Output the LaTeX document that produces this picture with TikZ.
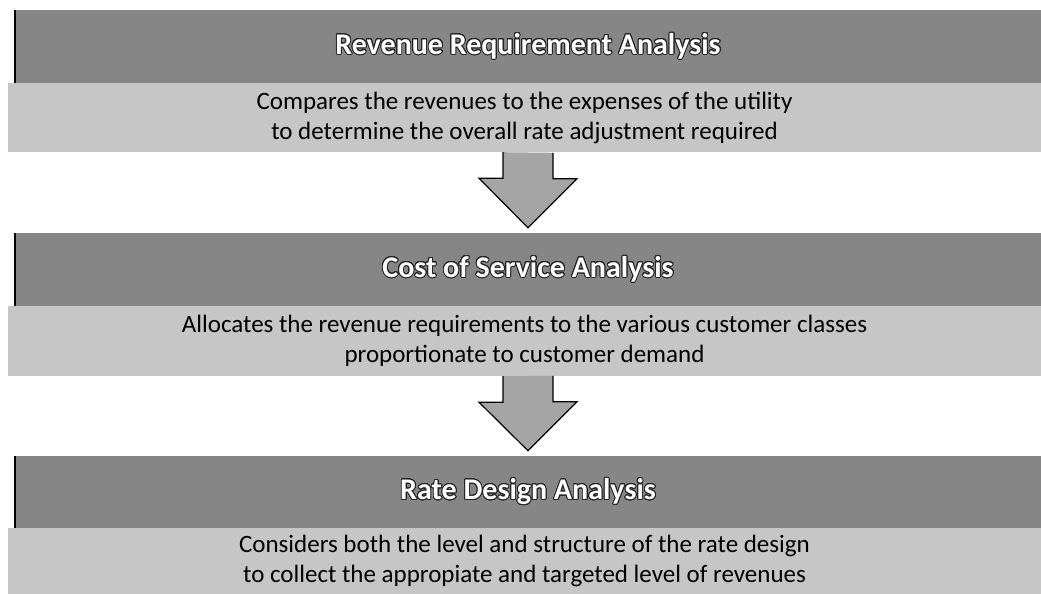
\documentclass[tikz,border=0pt]{standalone}
\usepackage{fontspec}
\setmainfont{Carlito}
\usepackage{xcolor}
\usepackage[copies]{contour}
\usetikzlibrary{positioning}
\definecolor{headgray}{RGB}{134,134,134}
\definecolor{descgray}{RGB}{198,198,198}
\definecolor{arrowgray}{RGB}{165,165,165}
\contourlength{0.9pt}
\contournumber{24}

\tikzset{
  headbar/.style={fill=headgray, minimum width=1026pt, minimum height=73pt, inner sep=0pt,
    font=\fontsize{30}{36}\selectfont\bfseries},
  descbar/.style={fill=descgray, minimum width=1033pt, minimum height=69pt, inner sep=0pt,
    align=center, font=\fontsize{25}{30}\selectfont},
  blockarrow/.style={fill=arrowgray, draw=black, line width=1.2pt, line join=miter}
}
\newcommand{\headtext}[1]{\contour{black!85}{\textcolor{white}{#1}}}

\begin{document}
\begin{tikzpicture}
    \useasboundingbox (0pt,0pt) rectangle (1041pt,-594pt);
    \fill[white] (0pt,0pt) rectangle (1041pt,-594pt);

    % the three steps
    \node [headbar] (h1) at (528pt,-46.5pt) {\headtext{Revenue Requirement Analysis}};
    \node [descbar] (d1) at (524.5pt,-117.5pt)
        {Compares the revenues to the expenses of the utility\\
         to determine the overall rate adjustment required};

    \node [headbar] (h2) at (528pt,-269.5pt) {\headtext{Cost of Service Analysis}};
    \node [descbar, minimum height=70pt] (d2) at (524.5pt,-341pt)
        {Allocates the revenue requirements to the various customer classes\\
         proportionate to customer demand};

    \node [headbar, minimum height=72pt] (h3) at (528pt,-492pt) {\headtext{Rate Design Analysis}};
    \node [descbar, minimum height=66pt] (d3) at (524.5pt,-561pt)
        {Considers both the level and structure of the rate design\\
         to collect the appropiate and targeted level of revenues};

    % dark edge on the left of each title bar
    \foreach \h in {h1,h2,h3}
        \draw [line width=1.6pt] (\h.north west) -- (\h.south west);

    % block arrows between the steps (top left open)
    \foreach \a/\b in {d1/h2, d2/h3}
        \draw [blockarrow] ([xshift=-25pt]\a.south -| \b.north) -- ++(0pt,-26pt) -- ++(-24pt,0pt)
            -- ([yshift=5pt]\b.north) -- ++(49pt,49pt) -- ++(-24pt,0pt) -- ++(0pt,26pt);
\end{tikzpicture}
\end{document}
